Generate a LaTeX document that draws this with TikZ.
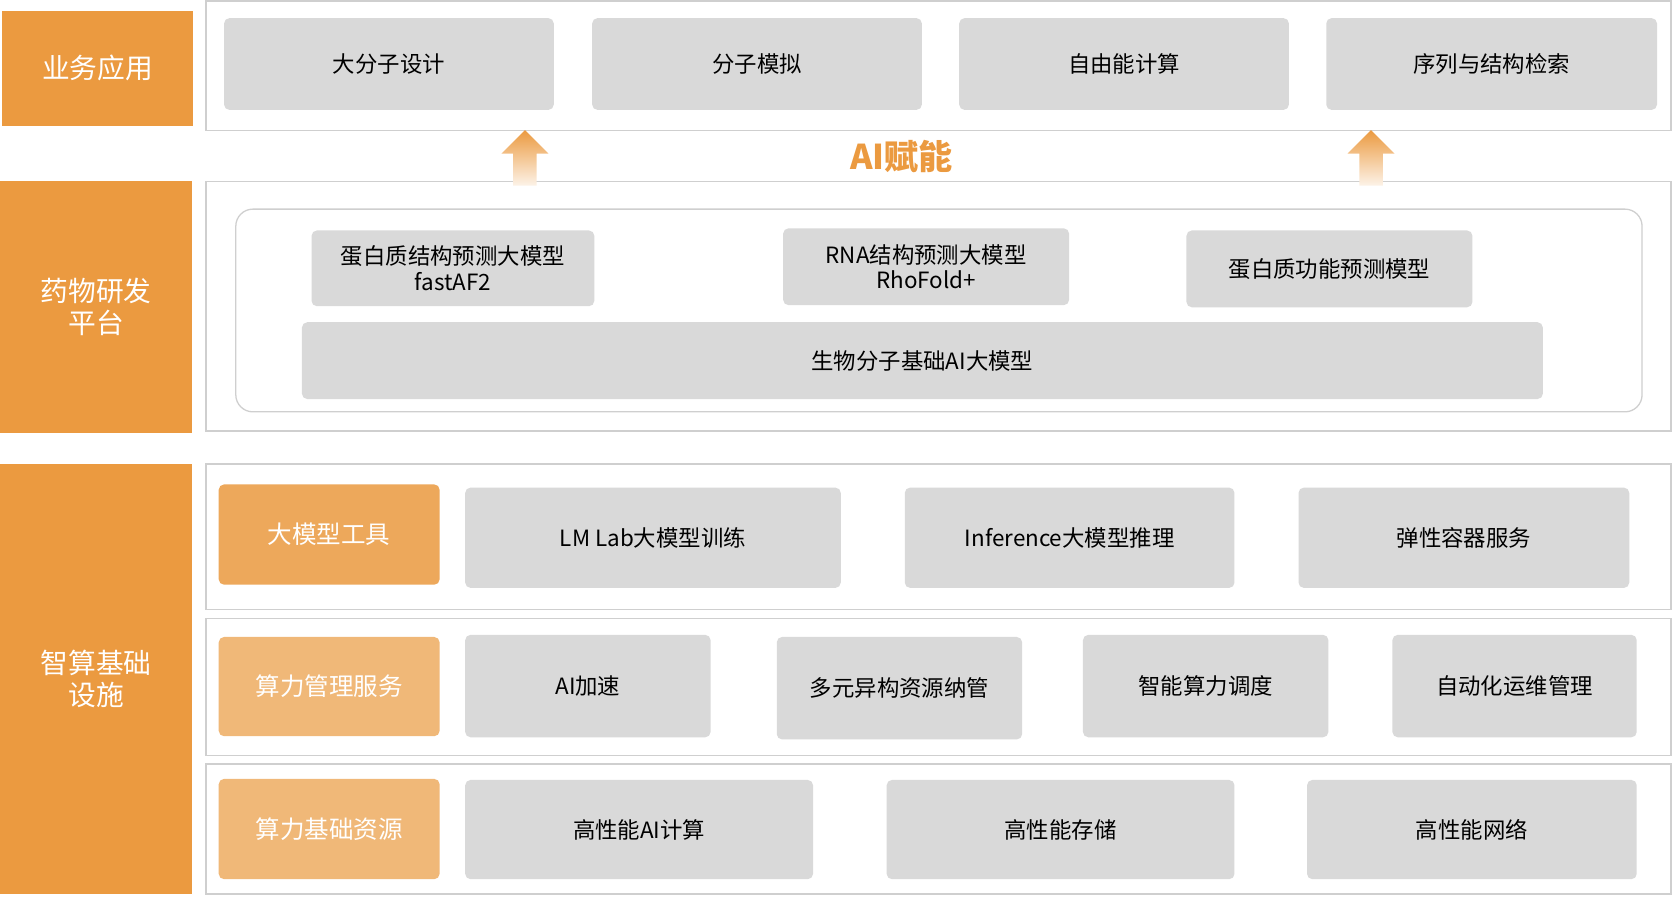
\documentclass[tikz,border=0pt]{standalone}
\usepackage{fontspec}
\setmainfont{Noto Sans CJK SC}
\usetikzlibrary{calc}
\definecolor{tagorange}{HTML}{EB9A40}
\definecolor{toolorange}{HTML}{EDA85B}
\definecolor{lightorange}{HTML}{F0B878}
\definecolor{boxgray}{HTML}{D9D9D9}
\definecolor{framegray}{HTML}{CFCFCF}
\tikzset{
  tag/.style={fill=tagorange,text=white,font=\fontsize{13}{15}\selectfont,align=center,inner sep=0pt},
  blk/.style={fill=boxgray,rounded corners=2.5pt,font=\fontsize{10.5}{12}\selectfont,align=center,inner sep=0pt},
  tool/.style={blk,fill=toolorange,text=white,font=\fontsize{11.5}{13}\selectfont},
  res/.style={blk,fill=lightorange,text=white,font=\fontsize{11.5}{13}\selectfont},
  frame/.style={draw=framegray,line width=.6pt,fill=white}
}
% box from corner (x1,y1) to (x2,y2)
\newcommand\blk[7]{\node[#1,minimum width={(#5-#3)*0.5pt},minimum height={(#6-#4)*0.5pt}] (#2) at ({(#3+#5)/2},{(#4+#6)/2}) {#7};}
\newcommand\uparr[1]{\shade[top color=tagorange,bottom color=tagorange!12]
  (#1-11,174) -- (#1-11,144) -- (#1-22,144) -- (#1,122) -- (#1+22,144) -- (#1+11,144) -- (#1+11,174) -- cycle;}
\begin{document}
\begin{tikzpicture}[x=0.5pt,y=-0.5pt]
\useasboundingbox (0,0) rectangle (1568,840);
% left tags
\blk{tag}{app}{2}{10}{181}{118}{业务应用}
\blk{tag}{drug}{0}{170}{180}{406}{药物研发\\平台}
\blk{tag}{infra}{0}{435}{180}{838}{智算基础\\设施}
% frames
\foreach \ya/\yb in {1/122,170/404,435/571,580/708,716/838}
  \draw[frame] (193,\ya) rectangle (1566,\yb);
\draw[draw=framegray,line width=.6pt,rounded corners=8pt] (221,196) rectangle (1539,386);
% applications
\blk{blk}{a1}{210}{17}{519}{103}{大分子设计}
\blk{blk}{a2}{555}{17}{864}{103}{分子模拟}
\blk{blk}{a3}{899}{17}{1208}{103}{自由能计算}
\blk{blk}{a4}{1243}{17}{1553}{103}{序列与结构检索}
% AI
\uparr{492}
\uparr{1285}
\node[text=tagorange,font=\fontsize{16}{18}\selectfont\bfseries] (ai) at (845,147) {AI赋能};
% platform
\blk{blk}{p1}{292}{216}{557}{287}{蛋白质结构预测大模型\\fastAF2}
\blk{blk}{p2}{734}{214}{1002}{286}{RNA结构预测大模型\\RhoFold+}
\blk{blk}{p3}{1112}{216}{1380}{288}{蛋白质功能预测模型}
\blk{blk}{p4}{283}{302}{1446}{374}{生物分子基础AI大模型}
% tools
\blk{tool}{t0}{205}{454}{412}{548}{大模型工具}
\blk{blk}{t1}{436}{457}{788}{551}{LM Lab大模型训练}
\blk{blk}{t2}{848}{457}{1157}{551}{Inference大模型推理}
\blk{blk}{t3}{1217}{457}{1527}{551}{弹性容器服务}
% management
\blk{res}{m0}{205}{597}{412}{690}{算力管理服务}
\blk{blk}{m1}{436}{595}{666}{691}{AI加速}
\blk{blk}{m2}{728}{597}{958}{693}{多元异构资源纳管}
\blk{blk}{m3}{1015}{595}{1245}{691}{智能算力调度}
\blk{blk}{m4}{1305}{595}{1534}{691}{自动化运维管理}
% resources
\blk{res}{r0}{205}{730}{412}{824}{算力基础资源}
\blk{blk}{r1}{436}{731}{762}{824}{高性能AI计算}
\blk{blk}{r2}{831}{731}{1157}{824}{高性能存储}
\blk{blk}{r3}{1225}{731}{1534}{824}{高性能网络}
\end{tikzpicture}
\end{document}
